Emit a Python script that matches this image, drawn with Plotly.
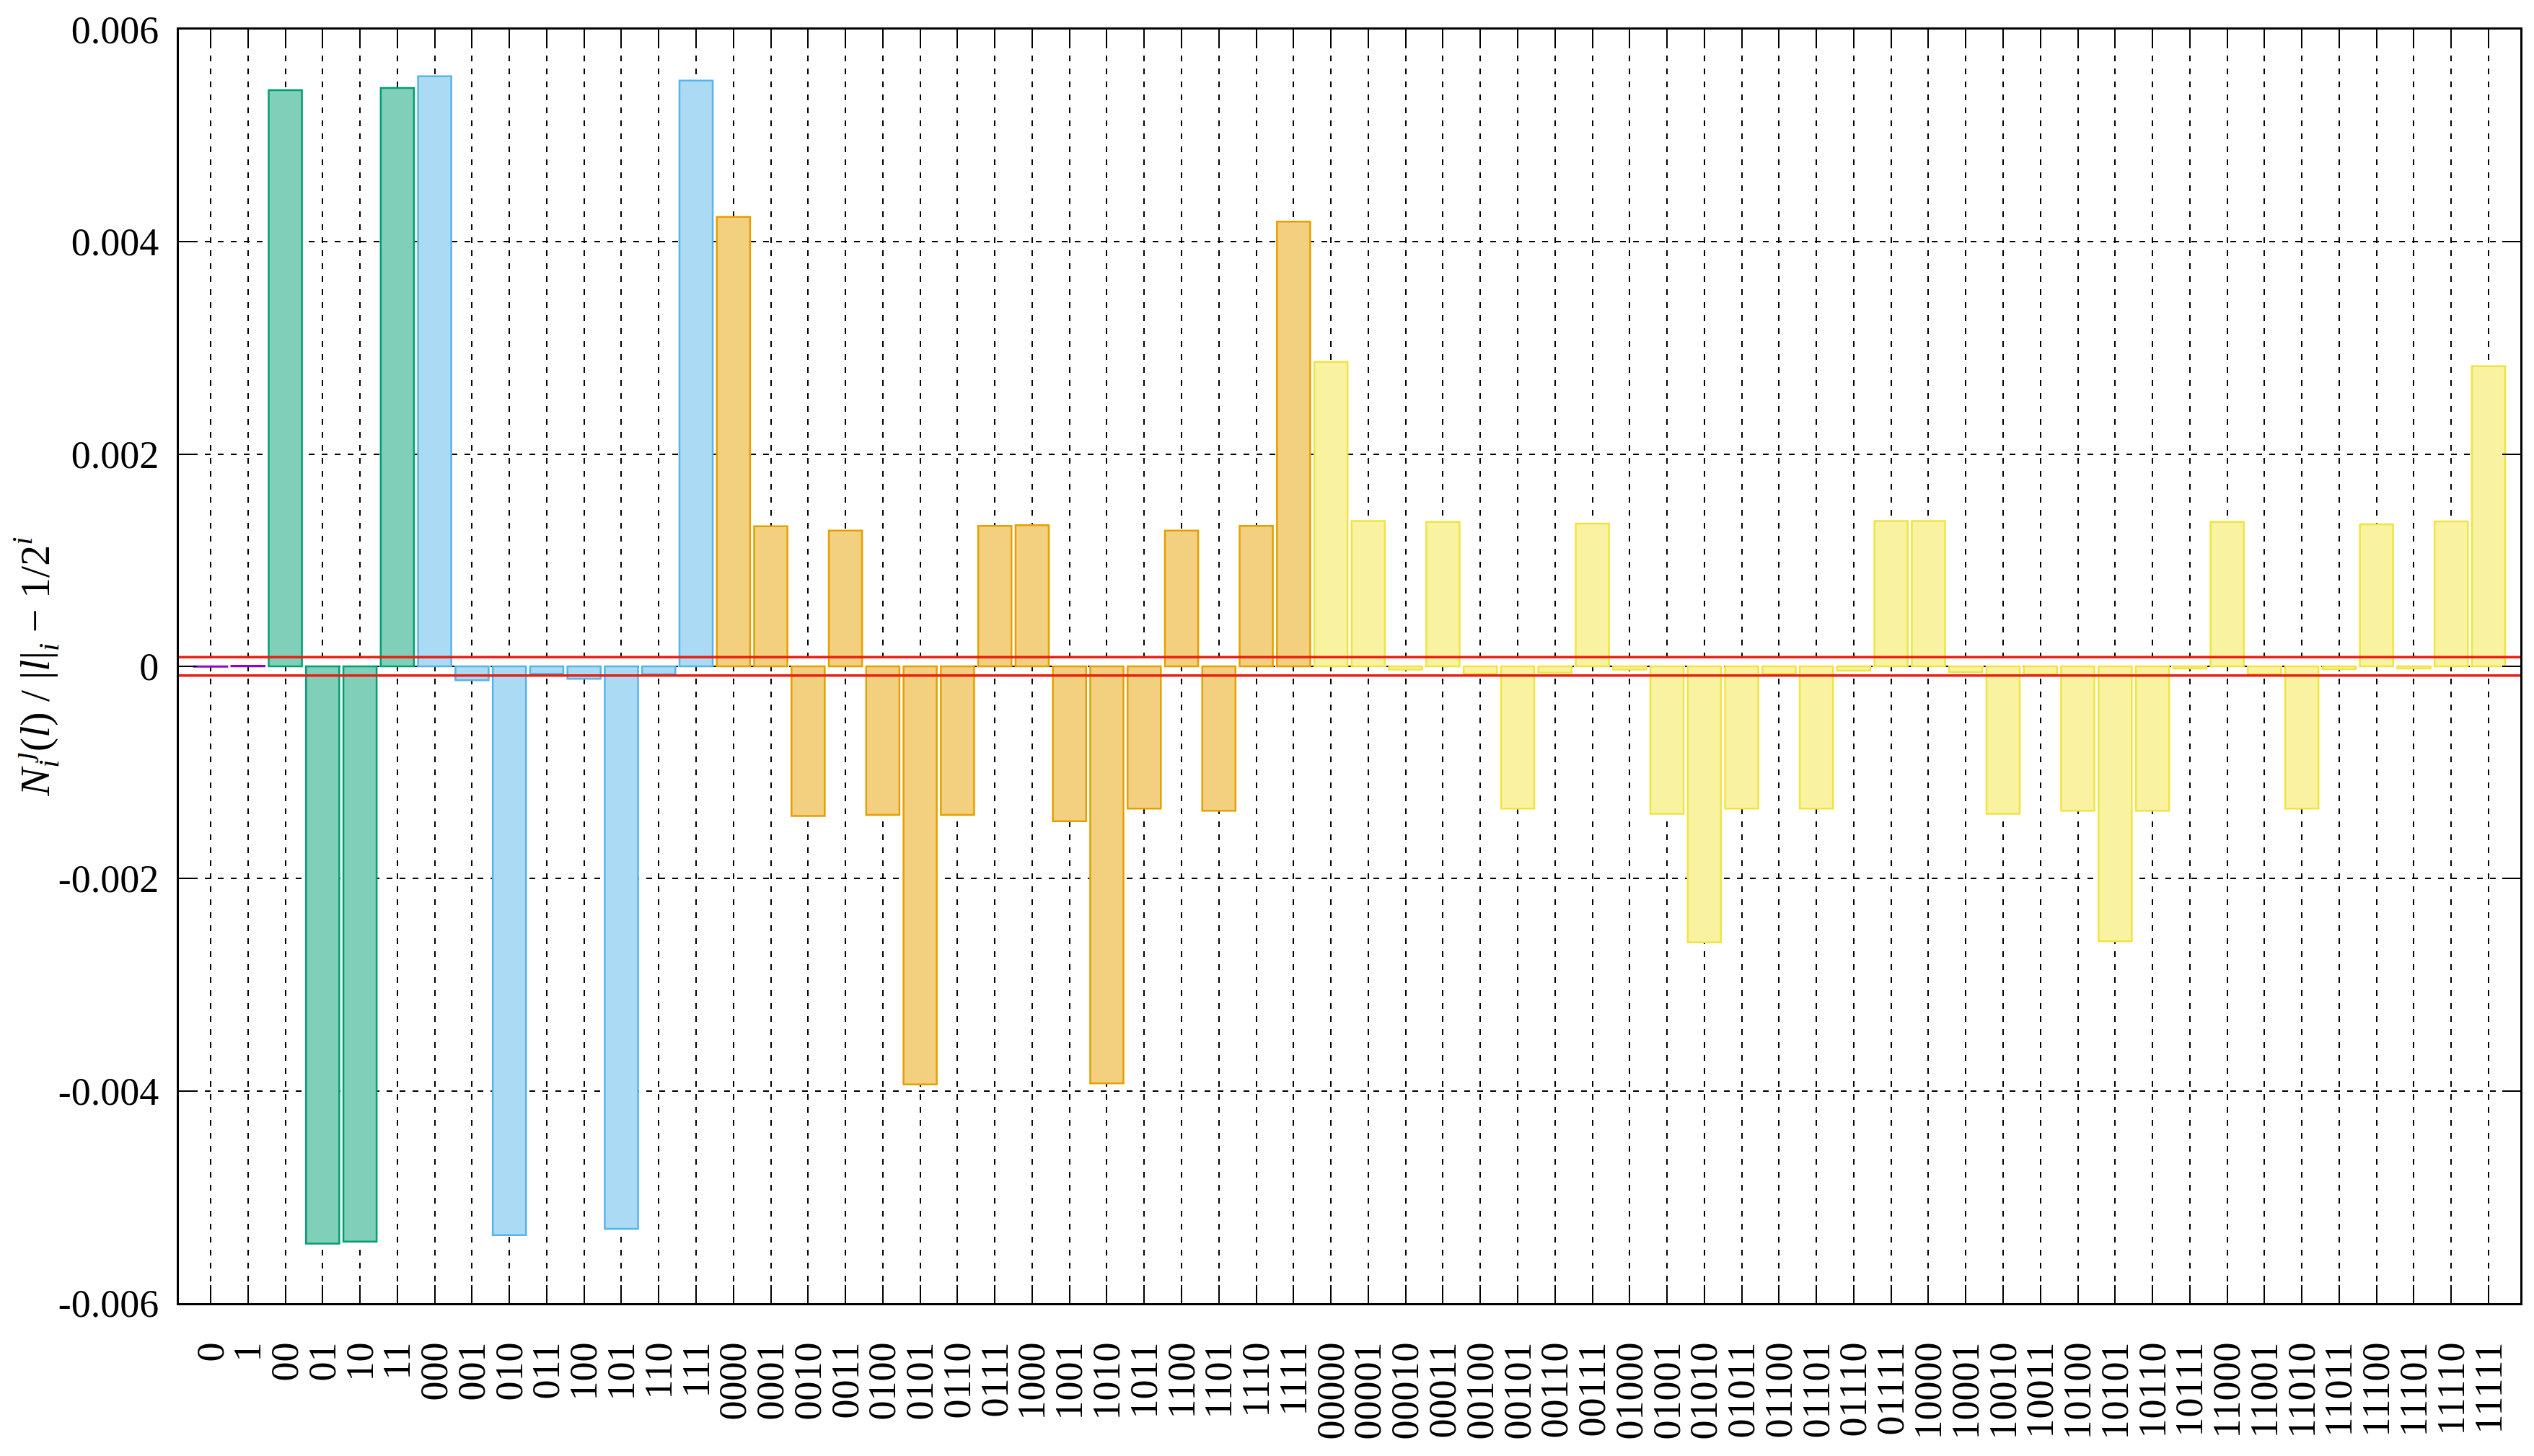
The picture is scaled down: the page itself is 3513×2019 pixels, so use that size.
import plotly.graph_objects as go

# ---- data ----
labels_1 = ["0", "1"]
values_1 = [-0.000003, 0.000005]

labels_2 = ["00", "01", "10", "11"]
values_2 = [0.00543, -0.00544, -0.00542, 0.00545]

labels_3 = ["000", "001", "010", "011", "100", "101", "110", "111"]
values_3 = [0.00556, -0.000131, -0.00536, -0.00007, -0.000118, -0.0053, -0.000075, 0.00552]

labels_4 = ["0000", "0001", "0010", "0011", "0100", "0101", "0110", "0111",
            "1000", "1001", "1010", "1011", "1100", "1101", "1110", "1111"]
values_4 = [0.004235, 0.00132, -0.00141, 0.00128, -0.0014, -0.00394, -0.0014, 0.001324,
            0.00133, -0.00146, -0.00393, -0.00134, 0.00128, -0.00136, 0.001324, 0.00419]

labels_5 = ["00000", "00001", "00010", "00011", "00100", "00101", "00110", "00111",
            "01000", "01001", "01010", "01011", "01100", "01101", "01110", "01111",
            "10000", "10001", "10010", "10011", "10100", "10101", "10110", "10111",
            "11000", "11001", "11010", "11011", "11100", "11101", "11110", "11111"]
values_5 = [0.00287, 0.00137, -0.00003, 0.00136, -0.00007, -0.00134, -0.00006, 0.001345,
            -0.00003, -0.00139, -0.0026, -0.00134, -0.00007, -0.00134, -0.00004, 0.00137,
            0.00137, -0.000055, -0.00139, -0.000077, -0.00136, -0.00259, -0.00136, -0.00002,
            0.00136, -0.000075, -0.00134, -0.000027, 0.001338, -0.00002, 0.001365, 0.002828]

threshold = 0.000086

y_tickvals = [-0.006, -0.004, -0.002, 0, 0.002, 0.004, 0.006]
y_ticktext = ["-0.006", "-0.004", "-0.002", "0", "0.002", "0.004", "0.006"]

series = [
    (labels_1, values_1, "#9400D3", "#CA80E9"),
    (labels_2, values_2, "#009E73", "#80CFB9"),
    (labels_3, values_3, "#56B4E9", "#ABDAF4"),
    (labels_4, values_4, "#E69F00", "#F3CF80"),
    (labels_5, values_5, "#F0E442", "#F8F2A1"),
]

all_labels = labels_1 + labels_2 + labels_3 + labels_4 + labels_5

FONT = "Liberation Serif"

fig = go.Figure()
for labs, vals, line_c, fill_c in series:
    fig.add_trace(go.Bar(
        x=labs, y=vals, width=0.89,
        marker=dict(color=fill_c, line=dict(color=line_c, width=2.5)),
        showlegend=False,
    ))

for s in (threshold, -threshold):
    fig.add_hline(y=s, line=dict(color="#EA1F13", width=3.5), layer="above")

fig.update_layout(
    width=3497, height=2003,
    margin=dict(l=240, r=11, t=33, b=204),
    paper_bgcolor="white", plot_bgcolor="white",
    barmode="overlay",
    font=dict(family=FONT, size=54, color="black"),
    showlegend=False,
)

fig.update_xaxes(
    type="category", categoryorder="array", categoryarray=all_labels,
    tickmode="array", tickvals=all_labels, ticktext=all_labels,
    range=[-0.85, len(all_labels) - 1 + 0.85],
    automargin=False, ticklabeloverflow="allow",
    showline=True, linecolor="black", linewidth=3, mirror="allticks",
    ticks="inside", ticklen=25, tickwidth=2, tickcolor="black",
    showgrid=True, gridcolor="black", gridwidth=1.5, griddash="8px,10px",
    tickangle=-90, tickfont=dict(family=FONT, size=54),
    ticklabelstandoff=30,
)

fig.update_yaxes(
    range=[-0.006, 0.006],
    tickvals=y_tickvals, ticktext=y_ticktext,
    automargin=False, ticklabeloverflow="allow",
    showline=True, linecolor="black", linewidth=3, mirror="allticks",
    ticks="inside", ticklen=25, tickwidth=2, tickcolor="black",
    showgrid=True, gridcolor="black", gridwidth=1.5, griddash="8px,10px",
    zeroline=False,
    tickfont=dict(family=FONT, size=54),
    ticklabelstandoff=14,
    title=dict(
        text="<i>N</i><sub><i>i</i></sub><sup><i>ȷ</i></sup>(<i>l</i>) / |<i>l</i>|<sub><i>i</i></sub> − 1/2<sup><i>i</i></sup>",
        font=dict(family=FONT, size=58), standoff=26,
    ),
)

fig.write_html("out.html")
